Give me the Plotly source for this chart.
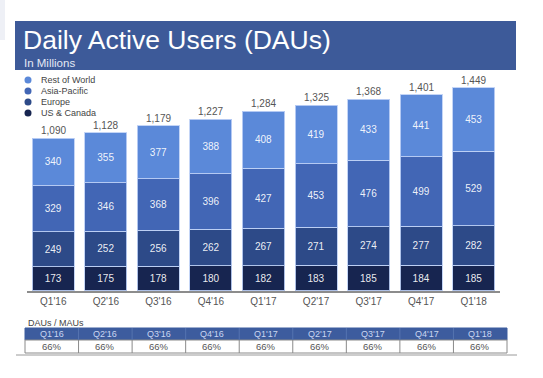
import plotly.graph_objects as go

W, H = 543, 378

quarters = ["Q1'16", "Q2'16", "Q3'16", "Q4'16", "Q1'17", "Q2'17", "Q3'17", "Q4'17", "Q1'18"]
us_canada = [173, 175, 178, 180, 182, 183, 185, 184, 185]
europe = [249, 252, 256, 262, 267, 271, 274, 277, 282]
asia_pacific = [329, 346, 368, 396, 427, 453, 476, 499, 529]
rest_of_world = [340, 355, 377, 388, 408, 419, 433, 441, 453]
totals = [1090, 1128, 1179, 1227, 1284, 1325, 1368, 1401, 1449]
dau_mau = ["66%"] * 9

series = [
    ("US & Canada", us_canada, "#172550"),
    ("Europe", europe, "#2d4a88"),
    ("Asia-Pacific", asia_pacific, "#4266b5"),
    ("Rest of World", rest_of_world, "#5b89d9"),
]

FONT = "Arial, Liberation Sans, sans-serif"

def px_x(p):
    return p / W

def px_y(p):
    return 1 - p / H

fig = go.Figure()
for name, vals, col in series:
    fig.add_trace(go.Bar(
        x=quarters, y=vals, name=name,
        marker=dict(color=col, line=dict(color="rgba(190,208,245,0.9)", width=1)),
        text=[str(v) for v in vals], textposition="inside",
        insidetextanchor="middle", textangle=0, constraintext="none",
        textfont=dict(color="rgba(255,255,255,0.92)", size=10, family=FONT),
        showlegend=False, hoverinfo="skip",
    ))

annotations = []
# totals
for q, t in zip(quarters, totals):
    annotations.append(dict(x=q, y=t, text=f"{t:,}", showarrow=False,
                            yanchor="bottom", yshift=0, xref="x", yref="y",
                            font=dict(size=10, color="#555555", family=FONT)))

shapes = [
    # faint panel top-left
    dict(type="rect", xref="paper", yref="paper", x0=0, x1=px_x(5), y0=px_y(40), y1=1,
         fillcolor="#eef0f6", line=dict(width=0), layer="below"),
    # banner
    dict(type="rect", xref="paper", yref="paper", x0=px_x(15), x1=px_x(516),
         y0=px_y(70), y1=px_y(21), fillcolor="#3d5a99", line=dict(width=0), layer="below"),
    # bottom rule
    dict(type="line", xref="paper", yref="paper", x0=px_x(16), x1=px_x(517),
         y0=px_y(355), y1=px_y(355), line=dict(color="#9a9a9a", width=1)),
]

# DAU/MAU table
tx0, tx1 = 25, 507
hy0, hy1, cy1 = 328, 340, 353
cw = (tx1 - tx0) / len(quarters)
shapes.append(dict(type="rect", xref="paper", yref="paper", x0=px_x(tx0), x1=px_x(tx1),
                   y0=px_y(hy1), y1=px_y(hy0), fillcolor="#3d5c9e",
                   line=dict(color="#3d5c9e", width=1)))
shapes.append(dict(type="rect", xref="paper", yref="paper", x0=px_x(tx0), x1=px_x(tx1),
                   y0=px_y(cy1), y1=px_y(hy1), fillcolor="white",
                   line=dict(color="#8a8a8a", width=1)))
for i, (q, v) in enumerate(zip(quarters, dau_mau)):
    cx = tx0 + cw * (i + 0.5)
    if i > 0:
        xl = tx0 + cw * i
        shapes.append(dict(type="line", xref="paper", yref="paper", x0=px_x(xl), x1=px_x(xl),
                           y0=px_y(cy1), y1=px_y(hy1), line=dict(color="#8a8a8a", width=1)))
        shapes.append(dict(type="line", xref="paper", yref="paper", x0=px_x(xl), x1=px_x(xl),
                           y0=px_y(hy1), y1=px_y(hy0), line=dict(color="#5574b0", width=1)))
    annotations.append(dict(text=q, xref="paper", yref="paper", x=px_x(cx), y=px_y((hy0 + hy1) / 2),
                            xanchor="center", yanchor="middle", showarrow=False,
                            font=dict(size=9, color="#c9d6f0", family=FONT)))
    annotations.append(dict(text=v, xref="paper", yref="paper", x=px_x(cx), y=px_y((hy1 + cy1) / 2),
                            xanchor="center", yanchor="middle", showarrow=False,
                            font=dict(size=9.5, color="#555555", family=FONT)))

annotations += [
    dict(text="Daily Active Users (DAUs)", xref="paper", yref="paper", x=px_x(21), y=px_y(40),
         xanchor="left", yanchor="middle", showarrow=False,
         font=dict(size=26.5, color="white", family=FONT)),
    dict(text="In Millions", xref="paper", yref="paper", x=px_x(22), y=px_y(63),
         xanchor="left", yanchor="middle", showarrow=False,
         font=dict(size=11.5, color="#e4e9f5", family=FONT)),
    dict(text="DAUs / MAUs", xref="paper", yref="paper", x=px_x(26), y=px_y(323),
         xanchor="left", yanchor="middle", showarrow=False,
         font=dict(size=9, color="#444444", family=FONT)),
]

# legend (manual, circle markers)
leg_y = [80, 91, 102, 113]
for (name, _, col), yy in zip(reversed(series), leg_y):
    shapes.append(dict(type="circle", xref="paper", yref="paper",
                       x0=px_x(24.5), x1=px_x(31.5), y0=px_y(yy + 3.5), y1=px_y(yy - 3.5),
                       fillcolor=col, line=dict(width=0)))
    annotations.append(dict(text=name, xref="paper", yref="paper", x=px_x(39), y=px_y(yy),
                            xanchor="left", yanchor="middle", showarrow=False,
                            font=dict(size=9, color="#444444", family=FONT)))

scale_top = 291 - 1500 * (291 - 88) / 1449

fig.update_layout(
    width=W, height=H, margin=dict(l=0, r=0, t=0, b=0),
    paper_bgcolor="white", plot_bgcolor="white",
    barmode="stack", bargap=0.2,
    font=dict(family=FONT),
    xaxis=dict(domain=[px_x(27), px_x(500)], range=[-0.5, 8.5], showline=True,
               linecolor="#8c8c8c", linewidth=1.5, showgrid=False, ticks="",
               tickfont=dict(size=10, color="#555555", family=FONT), fixedrange=True),
    yaxis=dict(domain=[px_y(291), px_y(scale_top)], range=[0, 1500], visible=False,
               showgrid=False, fixedrange=True),
    shapes=shapes, annotations=annotations, showlegend=False,
)

fig.write_html("out.html", config={"displayModeBar": False},
               post_script="document.body.style.margin='0';document.body.style.overflow='hidden';")
